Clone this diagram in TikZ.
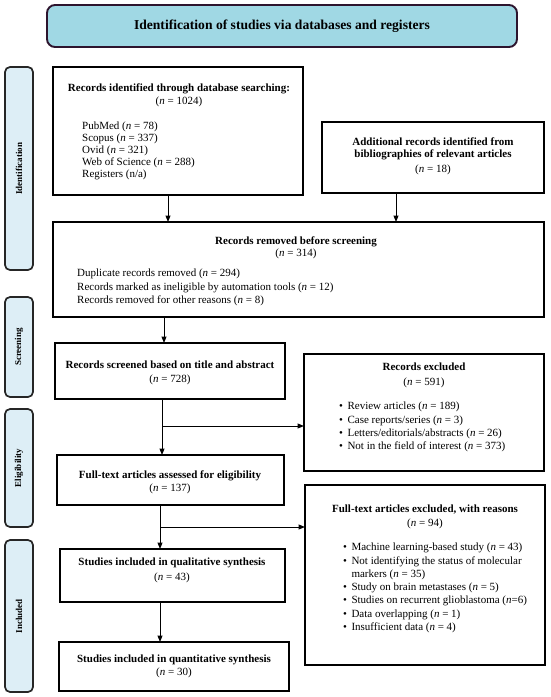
\documentclass[tikz,border=0pt]{standalone}
\usepackage{fontspec}
\setmainfont{Liberation Serif}
\usetikzlibrary{arrows.meta}
\definecolor{hdrfill}{RGB}{160,216,228}
\definecolor{hdrline}{RGB}{45,20,45}
\definecolor{sidefill}{RGB}{221,238,246}
\begin{document}
\begin{tikzpicture}[x=1pt,y=-1pt,
  box/.style={draw=black, line width=1.7pt, inner sep=0pt, outer sep=0pt},
  side/.style={draw=black!85, fill=sidefill, line width=1.7pt, rounded corners=5pt, inner sep=0pt, outer sep=0pt},
  sidetxt/.style={rotate=90, font=\fontsize{9}{10}\selectfont\bfseries, inner sep=0pt},
  arr/.style={line width=1pt, -{Triangle[length=6.5pt,width=5pt]}},
  ctr/.style={inner sep=0pt, align=center},
  lft/.style={inner sep=0pt, align=left, anchor=west},
  tsize/.style={font=\fontsize{11}{#1}\selectfont},
]
\useasboundingbox (0,0) rectangle (550,697);

% header
\node[draw=hdrline, fill=hdrfill, line width=1.9pt, rounded corners=8pt, minimum width=470, minimum height=42, inner sep=0pt] (hdr) at (282,26)
  {\fontsize{13.6}{15}\selectfont\bfseries Identification of studies via databases and registers};

% side labels
\node[side, minimum width=28, minimum height=203] (sId) at (19,168.5) {};
\node[sidetxt] (tId) at (sId.center) {Identification};
\node[side, minimum width=28, minimum height=100] (sSc) at (19,347) {};
\node[sidetxt] (tSc) at (sSc.center) {Screening};
\node[side, minimum width=28, minimum height=118] (sEl) at (19,468) {};
\node[sidetxt] (tEl) at (sEl.center) {Eligibility};
\node[side, minimum width=28, minimum height=152] (sIn) at (19,616) {};
\node[sidetxt] (tIn) at (sIn.center) {Included};

% box 1
\node[box, minimum width=250, minimum height=128] (b1) at (178,131) {};
\node[ctr, tsize=13] (b1t) at (179,95.5) {\textbf{Records identified through database searching:}\\(\textit{n} = 1024)};
\node[lft, tsize=12] (b1l) at (82,151) {PubMed (\textit{n} = 78)\\Scopus (\textit{n} = 337)\\Ovid (\textit{n} = 321)\\Web of Science (\textit{n} = 288)\\Registers (n/a)};

% box 2
\node[box, minimum width=222, minimum height=71] (b2) at (433,157.5) {};
\node[ctr, tsize=12] (b2t) at (433,156) {\textbf{Additional records identified from}\\\textbf{bibliographies of relevant articles}\\[3pt](\textit{n} = 18)};

% box 3
\node[box, minimum width=491, minimum height=95] (b3) at (298.5,269.5) {};
\node[ctr, tsize=12] (b3t) at (296,248) {\textbf{Records removed before screening}\\(\textit{n} = 314)};
\node[lft, tsize=13.5] (b3l) at (77,287.5) {Duplicate records removed (\textit{n} = 294)\\Records marked as ineligible by automation tools (\textit{n} = 12)\\Records removed for other reasons (\textit{n} = 8)};

% box 4
\node[box, minimum width=230, minimum height=56] (b4) at (170,371) {};
\node[ctr, tsize=14] (b4t) at (170,373) {\textbf{Records screened based on title and abstract}\\(\textit{n} = 728)};

% excluded 1
\node[box, minimum width=240, minimum height=117] (ex1) at (424,412.5) {};
\node[ctr, tsize=15] (ex1t) at (424,375.5) {\textbf{Records excluded}\\(\textit{n} = 591)};
\node[lft, tsize=13.3] (ex1l) at (339,427) {\textbullet\hspace{4.5pt}Review articles (\textit{n} = 189)\\\textbullet\hspace{4.5pt}Case reports/series (\textit{n} = 3)\\\textbullet\hspace{4.5pt}Letters/editorials/abstracts (\textit{n} = 26)\\\textbullet\hspace{4.5pt}Not in the field of interest (\textit{n} = 373)};

% box 5
\node[box, minimum width=227, minimum height=50] (b5) at (170.5,480) {};
\node[ctr, tsize=13] (b5t) at (170,482.5) {\textbf{Full-text articles assessed for eligibility}\\(\textit{n} = 137)};

% excluded 2
\node[box, minimum width=240, minimum height=180] (ex2) at (425,575) {};
\node[ctr, tsize=14] (ex2t) at (425,517) {\textbf{Full-text articles excluded, with reasons}\\(\textit{n} = 94)};
\node[lft, tsize=13.3] (ex2l) at (343,588) {\textbullet\hspace{4.5pt}Machine learning-based study (\textit{n} = 43)\\\textbullet\hspace{4.5pt}Not identifying the status of molecular\\\phantom{\textbullet}\hspace{4.5pt}markers (\textit{n} = 35)\\\textbullet\hspace{4.5pt}Study on brain metastases (\textit{n} = 5)\\\textbullet\hspace{4.5pt}Studies on recurrent glioblastoma (\textit{n}=6)\\\textbullet\hspace{4.5pt}Data overlapping (\textit{n} = 1)\\\textbullet\hspace{4.5pt}Insufficient data (\textit{n} = 4)};

% box 6
\node[box, minimum width=225, minimum height=53] (b6) at (172.5,575.5) {};
\node[ctr, tsize=15] (b6t) at (172,570.5) {\textbf{Studies included in qualitative synthesis}\\(\textit{n} = 43)};

% box 7
\node[box, minimum width=230, minimum height=49] (b7) at (174,666.5) {};
\node[ctr, tsize=13] (b7t) at (174,666.5) {\textbf{Studies included in quantitative synthesis}\\(\textit{n} = 30)};

% connector guide coordinates
\coordinate (x1) at (168,0);
\coordinate (x2) at (396,0);
\coordinate (x3) at (164,0);
\coordinate (x4) at (162,0);
\coordinate (x5) at (160,0);
\coordinate (j1) at (162,426);
\coordinate (j2) at (160,527);

\draw[arr] (b1.south -| x1) -- (b3.north -| x1);
\draw[arr] (b2.south -| x2) -- (b3.north -| x2);
\draw[arr] (b3.south -| x3) -- (b4.north -| x3);
\draw[arr] (b4.south -| x4) -- (b5.north -| x4);
\draw[arr] (j1) -- (ex1.west |- j1);
\draw[arr] (b5.south -| x5) -- (b6.north -| x5);
\draw[arr] (j2) -- (ex2.west |- j2);
\draw[arr] (b6.south -| x5) -- (b7.north -| x5);
\end{tikzpicture}
\end{document}
